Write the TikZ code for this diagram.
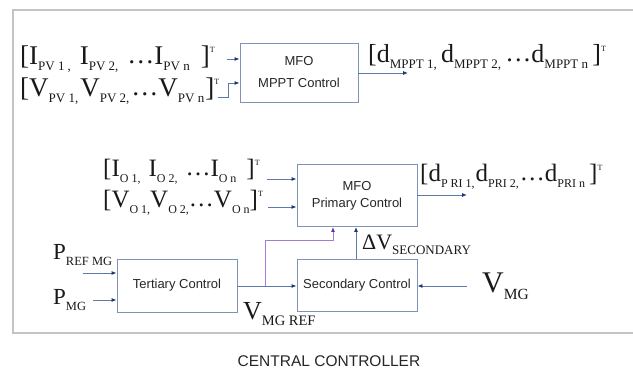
\documentclass[tikz,border=0pt]{standalone}
\usepackage{fontspec}
\setmainfont{Liberation Serif}
\newfontfamily\arial{Liberation Sans}
\usetikzlibrary{arrows.meta}
\definecolor{frm}{HTML}{C4C4C4}
\definecolor{bxc}{HTML}{7F93B8}
\definecolor{lnc}{HTML}{5B79AA}
\definecolor{tipc}{HTML}{1F3473}
\definecolor{prp}{HTML}{A57BD6}
\definecolor{prptip}{HTML}{6A2FA8}
\def\subsz{13}
\newcommand\sbs[1]{\raisebox{-0.22em}{\fontsize{\subsz}{\subsz}\selectfont #1}}
\newcommand\sps{\raisebox{0.45em}{\fontsize{8}{8}\selectfont T}}
\newcommand\dts{\raisebox{0.06em}{…}}
\begin{document}
\begin{tikzpicture}[x=1pt,y=-1pt,
  box/.style={draw=bxc,line width=0.9pt,inner sep=0pt,align=center,
    font=\arial\fontsize{13}{17}\selectfont,text=black!85},
  lbl/.style={inner sep=0pt,anchor=base west,text=black!90},
  arr/.style={draw=lnc,line width=0.9pt,-{Latex[length=5pt,width=4pt,color=tipc]}},
  parr/.style={draw=prp,line width=0.9pt,-{Latex[length=5pt,width=4pt,color=prptip]}},
  ln/.style={draw=lnc,line width=0.9pt}]
\clip (0,0) rectangle (633,371);
\fill[white] (0,0) rectangle (633,371);
\draw[frm,line width=2pt] (13,10.5) rectangle (660,333.5);

% boxes
\node[box,minimum width=118pt,minimum height=59pt] (mppt) at (299,72.5) {MFO\\[5pt]MPPT Control};
\node[box,minimum width=120pt,minimum height=62pt] (pri) at (357,195.5) {MFO\\Primary Control};
\node[box,minimum width=120pt,minimum height=52pt] (sec) at (357,285) {Secondary Control};
\node[box,minimum width=120pt,minimum height=53pt] (ter) at (177,285.5) {Tertiary Control};

% labels
\node[lbl] (ipv) at (20,65) {\fontsize{27}{27}\selectfont\def\subsz{13}[I\sbs{PV 1\hspace{3pt},}\hspace{9pt}I\sbs{PV 2,}\hspace{9pt}\dts I\sbs{PV n}\hspace{11pt}]\sps};
\node[lbl] (vpv) at (20,97) {\fontsize{27}{27}\selectfont\def\subsz{13}[V\sbs{PV 1,}\hspace{2pt}V\sbs{PV 2,}\hspace{2pt}\dts V\sbs{PV n}\hspace{1pt}]\sps};
\node[lbl] (dmppt) at (368,63) {\fontsize{26}{26}\selectfont\def\subsz{13}[d\sbs{MPPT 1,}\,d\sbs{MPPT 2,}\,\dts d\sbs{MPPT n}\,]\sps};
\node[lbl] (io) at (103,177) {\fontsize{25}{25}\selectfont\def\subsz{12}[I\sbs{O 1,}\hspace{8pt}I\sbs{O 2,}\hspace{8pt}\dts I\sbs{O n}\hspace{10pt}]\sps};
\node[lbl] (vo) at (103,208) {\fontsize{25}{25}\selectfont\def\subsz{12}[V\sbs{O 1,}V\sbs{O 2,}\dts V\sbs{O n}]\sps};
\node[lbl] (dpri) at (420,182) {\fontsize{25}{25}\selectfont\def\subsz{12}[d\sbs{P RI 1,}\hspace{1pt}d\sbs{PRI 2,}\hspace{1pt}\dts d\sbs{PRI n}\,]\sps};
\node[lbl] (pref) at (53,260) {\fontsize{23}{23}\selectfont\def\subsz{12.5}P\sbs{REF MG}};
\node[lbl] (pmg) at (53,305) {\fontsize{23}{23}\selectfont\def\subsz{12.5}P\sbs{MG}};
\node[lbl] (vmgref) at (243,320) {\fontsize{26}{26}\selectfont\def\subsz{14.5}V\sbs{MG REF}};
\node[lbl] (vmg) at (482,293) {\fontsize{30}{30}\selectfont\def\subsz{15.5}V\sbs{MG}};
\node[lbl] (dv) at (362,250) {\fontsize{22}{22}\selectfont\def\subsz{13}ΔV\sbs{SECONDARY}};
\node[inner sep=0pt,anchor=base,font=\arial\fontsize{15.5}{15.5}\selectfont,text=black!85] (cc) at (329,367) {CENTRAL CONTROLLER};

% connectors
\coordinate (a1) at (227,59);
\draw[arr] (a1) -- (a1 -| mppt.west);
\coordinate (a2) at (218,97);
\draw[arr] (a2) -- (228,97) -- (228,83) -- (mppt.west |- 0,83);
\coordinate (a3) at (408,73);
\draw[arr] (mppt.east |- a3) -- (a3);
\coordinate (b1) at (267,179);
\draw[arr] (b1) -- (b1 -| pri.west);
\coordinate (b2) at (268,207);
\draw[arr] (b2) -- (b2 -| pri.west);
\coordinate (b3) at (467,195);
\draw[arr] (pri.east |- b3) -- (b3);
\coordinate (c1) at (83,273);
\draw[arr] (c1) -- (c1 -| ter.west);
\coordinate (c2) at (93,300);
\draw[arr] (c2) -- (c2 -| ter.west);
\coordinate (c3) at (237,286);
\draw[arr] (ter.east |- c3) -- (c3 -| sec.west);
\coordinate (pj) at (265,286);
\draw[parr] (pj) -- (265,240) -- (333,240) -- (333,0 |- pri.south);
\draw[arr] (sec.north -| 356,0) -- (pri.south -| 356,0);
\coordinate (d1) at (467,286);
\draw[arr] (d1) -- (d1 -| sec.east);
\end{tikzpicture}
\end{document}
